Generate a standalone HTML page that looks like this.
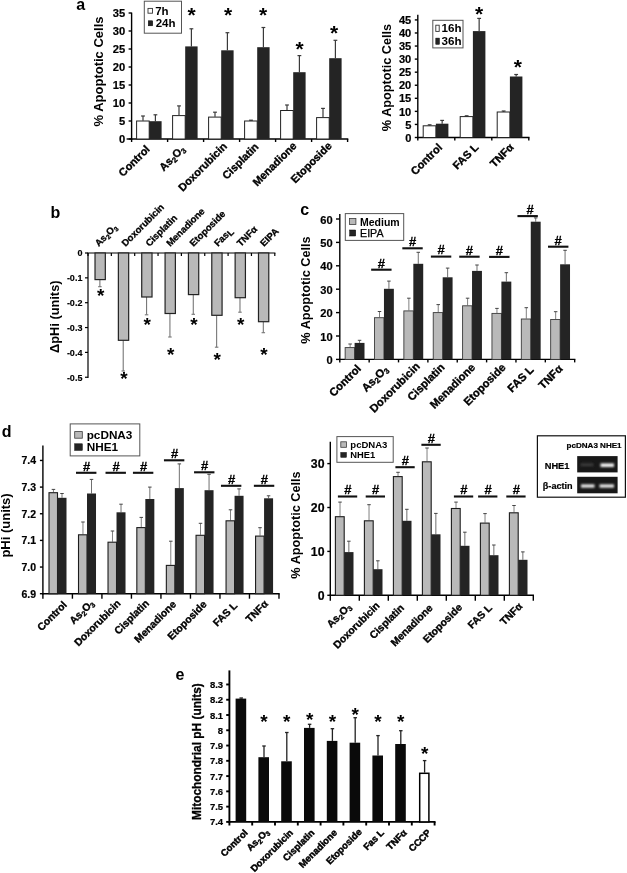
<!DOCTYPE html>
<html lang="en">
<head>
<meta charset="utf-8">
<title>Figure</title>
<style>
html,body{margin:0;padding:0;background:#fff;}
body{width:627px;height:873px;overflow:hidden;}
svg{display:block;font-family:"Liberation Sans",sans-serif;}
</style>
</head>
<body>
<svg width="627" height="873" viewBox="0 0 627 873">
<rect x="0" y="0" width="627" height="873" fill="#ffffff"/>
<text x="76.2" y="10.4" font-size="16" font-weight="bold" text-anchor="start" fill="#000" >a</text>
<line x1="131.6" y1="12.6" x2="131.6" y2="139.7" stroke="#000" stroke-width="1.4" />
<line x1="128.6" y1="139" x2="131.6" y2="139" stroke="#000" stroke-width="1.4" />
<text x="125.2" y="143.2" font-size="11.2" font-weight="bold" text-anchor="end" fill="#000" stroke="#000" stroke-width="0.2">0</text>
<line x1="128.6" y1="121" x2="131.6" y2="121" stroke="#000" stroke-width="1.4" />
<text x="125.2" y="125.2" font-size="11.2" font-weight="bold" text-anchor="end" fill="#000" stroke="#000" stroke-width="0.2">5</text>
<line x1="128.6" y1="103" x2="131.6" y2="103" stroke="#000" stroke-width="1.4" />
<text x="125.2" y="107.2" font-size="11.2" font-weight="bold" text-anchor="end" fill="#000" stroke="#000" stroke-width="0.2">10</text>
<line x1="128.6" y1="85" x2="131.6" y2="85" stroke="#000" stroke-width="1.4" />
<text x="125.2" y="89.2" font-size="11.2" font-weight="bold" text-anchor="end" fill="#000" stroke="#000" stroke-width="0.2">15</text>
<line x1="128.6" y1="67" x2="131.6" y2="67" stroke="#000" stroke-width="1.4" />
<text x="125.2" y="71.2" font-size="11.2" font-weight="bold" text-anchor="end" fill="#000" stroke="#000" stroke-width="0.2">20</text>
<line x1="128.6" y1="49" x2="131.6" y2="49" stroke="#000" stroke-width="1.4" />
<text x="125.2" y="53.2" font-size="11.2" font-weight="bold" text-anchor="end" fill="#000" stroke="#000" stroke-width="0.2">25</text>
<line x1="128.6" y1="31" x2="131.6" y2="31" stroke="#000" stroke-width="1.4" />
<text x="125.2" y="35.2" font-size="11.2" font-weight="bold" text-anchor="end" fill="#000" stroke="#000" stroke-width="0.2">30</text>
<line x1="128.6" y1="13" x2="131.6" y2="13" stroke="#000" stroke-width="1.4" />
<text x="125.2" y="17.2" font-size="11.2" font-weight="bold" text-anchor="end" fill="#000" stroke="#000" stroke-width="0.2">35</text>
<line x1="130.9" y1="139" x2="348.3" y2="139" stroke="#000" stroke-width="1.4" />
<line x1="131.6" y1="139" x2="131.6" y2="142" stroke="#000" stroke-width="1.4" />
<line x1="167.6" y1="139" x2="167.6" y2="142" stroke="#000" stroke-width="1.4" />
<line x1="203.6" y1="139" x2="203.6" y2="142" stroke="#000" stroke-width="1.4" />
<line x1="239.6" y1="139" x2="239.6" y2="142" stroke="#000" stroke-width="1.4" />
<line x1="275.6" y1="139" x2="275.6" y2="142" stroke="#000" stroke-width="1.4" />
<line x1="311.6" y1="139" x2="311.6" y2="142" stroke="#000" stroke-width="1.4" />
<line x1="347.6" y1="139" x2="347.6" y2="142" stroke="#000" stroke-width="1.4" />
<line x1="126.6" y1="139" x2="131.6" y2="139" stroke="#000" stroke-width="1.4" />
<text x="102.5" y="71.5" font-size="13" font-weight="bold" text-anchor="middle" fill="#000" transform="rotate(-90 102.5 71.5)" >% Apoptotic Cells</text>
<rect x="144.3" y="1.2" width="37.2" height="32" fill="#fff" stroke="#555" stroke-width="1"/>
<rect x="148" y="8.4" width="4.5" height="4.8" fill="#fff" stroke="#333" stroke-width="0.9"/>
<rect x="148.3" y="20.8" width="4.4" height="5" fill="#242424" stroke="#000" stroke-width="0.5"/>
<text x="155.2" y="15.1" font-size="11.5" font-weight="bold" text-anchor="start" fill="#000" >7h</text>
<text x="155.7" y="27.2" font-size="11.5" font-weight="bold" text-anchor="start" fill="#000" >24h</text>
<line x1="143" y1="120.7" x2="143" y2="116" stroke="#3a3a3a" stroke-width="1.2" />
<line x1="141.1" y1="116" x2="144.9" y2="116" stroke="#3a3a3a" stroke-width="1.2" />
<line x1="155.4" y1="121.2" x2="155.4" y2="114.8" stroke="#3a3a3a" stroke-width="1.2" />
<line x1="153.5" y1="114.8" x2="157.3" y2="114.8" stroke="#3a3a3a" stroke-width="1.2" />
<rect x="136.6" y="121" width="12.6" height="18" fill="#fff" stroke="#222" stroke-width="1"/>
<rect x="149.2" y="121.2" width="12.4" height="17.8" fill="#242424" stroke="none" stroke-width="1"/>
<line x1="179" y1="115.3" x2="179" y2="105.9" stroke="#3a3a3a" stroke-width="1.2" />
<line x1="177.1" y1="105.9" x2="180.9" y2="105.9" stroke="#3a3a3a" stroke-width="1.2" />
<line x1="191.4" y1="46.4" x2="191.4" y2="28.8" stroke="#3a3a3a" stroke-width="1.2" />
<line x1="189.5" y1="28.8" x2="193.3" y2="28.8" stroke="#3a3a3a" stroke-width="1.2" />
<rect x="172.6" y="115.6" width="12.6" height="23.4" fill="#fff" stroke="#222" stroke-width="1"/>
<rect x="185.2" y="46.4" width="12.4" height="92.6" fill="#242424" stroke="none" stroke-width="1"/>
<line x1="215" y1="116.8" x2="215" y2="112.2" stroke="#3a3a3a" stroke-width="1.2" />
<line x1="213.1" y1="112.2" x2="216.9" y2="112.2" stroke="#3a3a3a" stroke-width="1.2" />
<line x1="227.4" y1="50.3" x2="227.4" y2="32.7" stroke="#3a3a3a" stroke-width="1.2" />
<line x1="225.5" y1="32.7" x2="229.3" y2="32.7" stroke="#3a3a3a" stroke-width="1.2" />
<rect x="208.6" y="117.1" width="12.6" height="21.9" fill="#fff" stroke="#222" stroke-width="1"/>
<rect x="221.2" y="50.3" width="12.4" height="88.7" fill="#242424" stroke="none" stroke-width="1"/>
<line x1="251" y1="120.7" x2="251" y2="120.2" stroke="#3a3a3a" stroke-width="1.2" />
<line x1="249.1" y1="120.2" x2="252.9" y2="120.2" stroke="#3a3a3a" stroke-width="1.2" />
<line x1="263.4" y1="47.2" x2="263.4" y2="27.5" stroke="#3a3a3a" stroke-width="1.2" />
<line x1="261.5" y1="27.5" x2="265.3" y2="27.5" stroke="#3a3a3a" stroke-width="1.2" />
<rect x="244.6" y="121" width="12.6" height="18" fill="#fff" stroke="#222" stroke-width="1"/>
<rect x="257.2" y="47.2" width="12.4" height="91.8" fill="#242424" stroke="none" stroke-width="1"/>
<line x1="287" y1="110.2" x2="287" y2="105" stroke="#3a3a3a" stroke-width="1.2" />
<line x1="285.1" y1="105" x2="288.9" y2="105" stroke="#3a3a3a" stroke-width="1.2" />
<line x1="299.4" y1="72.2" x2="299.4" y2="55.6" stroke="#3a3a3a" stroke-width="1.2" />
<line x1="297.5" y1="55.6" x2="301.3" y2="55.6" stroke="#3a3a3a" stroke-width="1.2" />
<rect x="280.6" y="110.5" width="12.6" height="28.5" fill="#fff" stroke="#222" stroke-width="1"/>
<rect x="293.2" y="72.2" width="12.4" height="66.8" fill="#242424" stroke="none" stroke-width="1"/>
<line x1="323" y1="117.3" x2="323" y2="108.4" stroke="#3a3a3a" stroke-width="1.2" />
<line x1="321.1" y1="108.4" x2="324.9" y2="108.4" stroke="#3a3a3a" stroke-width="1.2" />
<line x1="335.4" y1="58.2" x2="335.4" y2="40.3" stroke="#3a3a3a" stroke-width="1.2" />
<line x1="333.5" y1="40.3" x2="337.3" y2="40.3" stroke="#3a3a3a" stroke-width="1.2" />
<rect x="316.6" y="117.6" width="12.6" height="21.4" fill="#fff" stroke="#222" stroke-width="1"/>
<rect x="329.2" y="58.2" width="12.4" height="80.8" fill="#242424" stroke="none" stroke-width="1"/>
<text x="191.7" y="21.75" font-size="21" font-weight="bold" text-anchor="middle" fill="#000" >*</text>
<text x="228" y="21.75" font-size="21" font-weight="bold" text-anchor="middle" fill="#000" >*</text>
<text x="263" y="21.75" font-size="21" font-weight="bold" text-anchor="middle" fill="#000" >*</text>
<text x="299.6" y="56.25" font-size="21" font-weight="bold" text-anchor="middle" fill="#000" >*</text>
<text x="334" y="40.25" font-size="21" font-weight="bold" text-anchor="middle" fill="#000" >*</text>
<text x="150.5" y="149.8" font-size="10.9" font-weight="bold" text-anchor="end" fill="#000" transform="rotate(-45 150.5 149.8)" stroke="#000" stroke-width="0.35">Control</text>
<text x="185.6" y="149.8" font-size="10.9" font-weight="bold" text-anchor="end" fill="#000" transform="rotate(-45 185.6 149.8)" stroke="#000" stroke-width="0.35">As<tspan font-size="70%" dy="2">2</tspan><tspan dy="-2">O</tspan><tspan font-size="70%" dy="2">3</tspan></text>
<text x="227.7" y="147" font-size="10.9" font-weight="bold" text-anchor="end" fill="#000" transform="rotate(-45 227.7 147)" stroke="#000" stroke-width="0.35">Doxorubicin</text>
<text x="259.3" y="147.5" font-size="10.9" font-weight="bold" text-anchor="end" fill="#000" transform="rotate(-45 259.3 147.5)" stroke="#000" stroke-width="0.35">Cisplatin</text>
<text x="297.4" y="146.5" font-size="10.9" font-weight="bold" text-anchor="end" fill="#000" transform="rotate(-45 297.4 146.5)" stroke="#000" stroke-width="0.35">Menadione</text>
<text x="332.5" y="146.5" font-size="10.9" font-weight="bold" text-anchor="end" fill="#000" transform="rotate(-45 332.5 146.5)" stroke="#000" stroke-width="0.35">Etoposide</text>
<line x1="417.8" y1="14.7" x2="417.8" y2="138.2" stroke="#000" stroke-width="1.4" />
<line x1="414.8" y1="137.5" x2="417.8" y2="137.5" stroke="#000" stroke-width="1.4" />
<text x="411.3" y="141.66" font-size="11.1" font-weight="bold" text-anchor="end" fill="#000" stroke="#000" stroke-width="0.2">0</text>
<line x1="414.8" y1="124.44" x2="417.8" y2="124.44" stroke="#000" stroke-width="1.4" />
<text x="411.3" y="128.6" font-size="11.1" font-weight="bold" text-anchor="end" fill="#000" stroke="#000" stroke-width="0.2">5</text>
<line x1="414.8" y1="111.37" x2="417.8" y2="111.37" stroke="#000" stroke-width="1.4" />
<text x="411.3" y="115.53" font-size="11.1" font-weight="bold" text-anchor="end" fill="#000" stroke="#000" stroke-width="0.2">10</text>
<line x1="414.8" y1="98.31" x2="417.8" y2="98.31" stroke="#000" stroke-width="1.4" />
<text x="411.3" y="102.47" font-size="11.1" font-weight="bold" text-anchor="end" fill="#000" stroke="#000" stroke-width="0.2">15</text>
<line x1="414.8" y1="85.24" x2="417.8" y2="85.24" stroke="#000" stroke-width="1.4" />
<text x="411.3" y="89.4" font-size="11.1" font-weight="bold" text-anchor="end" fill="#000" stroke="#000" stroke-width="0.2">20</text>
<line x1="414.8" y1="72.17" x2="417.8" y2="72.17" stroke="#000" stroke-width="1.4" />
<text x="411.3" y="76.34" font-size="11.1" font-weight="bold" text-anchor="end" fill="#000" stroke="#000" stroke-width="0.2">25</text>
<line x1="414.8" y1="59.11" x2="417.8" y2="59.11" stroke="#000" stroke-width="1.4" />
<text x="411.3" y="63.27" font-size="11.1" font-weight="bold" text-anchor="end" fill="#000" stroke="#000" stroke-width="0.2">30</text>
<line x1="414.8" y1="46.05" x2="417.8" y2="46.05" stroke="#000" stroke-width="1.4" />
<text x="411.3" y="50.21" font-size="11.1" font-weight="bold" text-anchor="end" fill="#000" stroke="#000" stroke-width="0.2">35</text>
<line x1="414.8" y1="32.98" x2="417.8" y2="32.98" stroke="#000" stroke-width="1.4" />
<text x="411.3" y="37.14" font-size="11.1" font-weight="bold" text-anchor="end" fill="#000" stroke="#000" stroke-width="0.2">40</text>
<line x1="414.8" y1="19.92" x2="417.8" y2="19.92" stroke="#000" stroke-width="1.4" />
<text x="411.3" y="24.08" font-size="11.1" font-weight="bold" text-anchor="end" fill="#000" stroke="#000" stroke-width="0.2">45</text>
<line x1="417.1" y1="137.5" x2="529.5" y2="137.5" stroke="#000" stroke-width="1.4" />
<line x1="417.8" y1="137.5" x2="417.8" y2="140.5" stroke="#000" stroke-width="1.4" />
<line x1="454.8" y1="137.5" x2="454.8" y2="140.5" stroke="#000" stroke-width="1.4" />
<line x1="491.8" y1="137.5" x2="491.8" y2="140.5" stroke="#000" stroke-width="1.4" />
<line x1="528.8" y1="137.5" x2="528.8" y2="140.5" stroke="#000" stroke-width="1.4" />
<text x="390.7" y="77.5" font-size="12.7" font-weight="bold" text-anchor="middle" fill="#000" transform="rotate(-90 390.7 77.5)" >% Apoptotic Cells</text>
<rect x="432.8" y="20.3" width="30.2" height="27.6" fill="#fff" stroke="#555" stroke-width="1"/>
<rect x="435.8" y="25.2" width="3.4" height="6.2" fill="#fff" stroke="#333" stroke-width="0.9"/>
<rect x="435.8" y="38.1" width="3.6" height="6.2" fill="#242424" stroke="#000" stroke-width="0.5"/>
<text x="441.5" y="31.9" font-size="11.6" font-weight="bold" text-anchor="start" fill="#000" >16h</text>
<text x="441.5" y="44.6" font-size="11.6" font-weight="bold" text-anchor="start" fill="#000" >36h</text>
<line x1="429.65" y1="125.5" x2="429.65" y2="124.8" stroke="#3a3a3a" stroke-width="1.2" />
<line x1="427.75" y1="124.8" x2="431.55" y2="124.8" stroke="#3a3a3a" stroke-width="1.2" />
<line x1="442.15" y1="123.7" x2="442.15" y2="120.4" stroke="#3a3a3a" stroke-width="1.2" />
<line x1="440.25" y1="120.4" x2="444.05" y2="120.4" stroke="#3a3a3a" stroke-width="1.2" />
<rect x="423.2" y="125.8" width="12.7" height="11.7" fill="#fff" stroke="#222" stroke-width="1"/>
<rect x="435.9" y="123.7" width="12.5" height="13.8" fill="#242424" stroke="none" stroke-width="1"/>
<line x1="466.65" y1="116.3" x2="466.65" y2="115.8" stroke="#3a3a3a" stroke-width="1.2" />
<line x1="464.75" y1="115.8" x2="468.55" y2="115.8" stroke="#3a3a3a" stroke-width="1.2" />
<line x1="479.15" y1="31.1" x2="479.15" y2="18.4" stroke="#3a3a3a" stroke-width="1.2" />
<line x1="477.25" y1="18.4" x2="481.05" y2="18.4" stroke="#3a3a3a" stroke-width="1.2" />
<rect x="460.2" y="116.6" width="12.7" height="20.9" fill="#fff" stroke="#222" stroke-width="1"/>
<rect x="472.9" y="31.1" width="12.5" height="106.4" fill="#242424" stroke="none" stroke-width="1"/>
<line x1="503.65" y1="111.7" x2="503.65" y2="111" stroke="#3a3a3a" stroke-width="1.2" />
<line x1="501.75" y1="111" x2="505.55" y2="111" stroke="#3a3a3a" stroke-width="1.2" />
<line x1="516.15" y1="76.5" x2="516.15" y2="74.5" stroke="#3a3a3a" stroke-width="1.2" />
<line x1="514.25" y1="74.5" x2="518.05" y2="74.5" stroke="#3a3a3a" stroke-width="1.2" />
<rect x="497.2" y="112" width="12.7" height="25.5" fill="#fff" stroke="#222" stroke-width="1"/>
<rect x="509.9" y="76.5" width="12.5" height="61" fill="#242424" stroke="none" stroke-width="1"/>
<text x="479" y="20.75" font-size="21" font-weight="bold" text-anchor="middle" fill="#000" >*</text>
<text x="517.8" y="73.85" font-size="21" font-weight="bold" text-anchor="middle" fill="#000" >*</text>
<text x="442.8" y="148" font-size="11" font-weight="bold" text-anchor="end" fill="#000" transform="rotate(-45 442.8 148)" stroke="#000" stroke-width="0.35">Control</text>
<text x="479.3" y="148" font-size="11" font-weight="bold" text-anchor="end" fill="#000" transform="rotate(-45 479.3 148)" stroke="#000" stroke-width="0.35">FAS L</text>
<text x="514.3" y="148" font-size="11" font-weight="bold" text-anchor="end" fill="#000" transform="rotate(-45 514.3 148)" stroke="#000" stroke-width="0.35">TNFα</text>
<text x="50.5" y="217.7" font-size="16" font-weight="bold" text-anchor="start" fill="#000" >b</text>
<line x1="88" y1="253" x2="88" y2="377.9" stroke="#000" stroke-width="1.2" />
<line x1="85" y1="253" x2="88" y2="253" stroke="#000" stroke-width="1.2" />
<text x="82.4" y="256.38" font-size="9.0" font-weight="bold" text-anchor="end" fill="#000" stroke="#000" stroke-width="0.15">0</text>
<line x1="85" y1="277.85" x2="88" y2="277.85" stroke="#000" stroke-width="1.2" />
<text x="82.4" y="281.23" font-size="9.0" font-weight="bold" text-anchor="end" fill="#000" stroke="#000" stroke-width="0.15">-0.1</text>
<line x1="85" y1="302.7" x2="88" y2="302.7" stroke="#000" stroke-width="1.2" />
<text x="82.4" y="306.07" font-size="9.0" font-weight="bold" text-anchor="end" fill="#000" stroke="#000" stroke-width="0.15">-0.2</text>
<line x1="85" y1="327.55" x2="88" y2="327.55" stroke="#000" stroke-width="1.2" />
<text x="82.4" y="330.93" font-size="9.0" font-weight="bold" text-anchor="end" fill="#000" stroke="#000" stroke-width="0.15">-0.3</text>
<line x1="85" y1="352.4" x2="88" y2="352.4" stroke="#000" stroke-width="1.2" />
<text x="82.4" y="355.77" font-size="9.0" font-weight="bold" text-anchor="end" fill="#000" stroke="#000" stroke-width="0.15">-0.4</text>
<line x1="85" y1="377.25" x2="88" y2="377.25" stroke="#000" stroke-width="1.2" />
<text x="82.4" y="380.62" font-size="9.0" font-weight="bold" text-anchor="end" fill="#000" stroke="#000" stroke-width="0.15">-0.5</text>
<line x1="87.4" y1="253" x2="275.4" y2="253" stroke="#000" stroke-width="1.2" />
<line x1="88" y1="253" x2="88" y2="256" stroke="#000" stroke-width="1.2" />
<line x1="111.35" y1="253" x2="111.35" y2="256" stroke="#000" stroke-width="1.2" />
<line x1="134.7" y1="253" x2="134.7" y2="256" stroke="#000" stroke-width="1.2" />
<line x1="158.05" y1="253" x2="158.05" y2="256" stroke="#000" stroke-width="1.2" />
<line x1="181.4" y1="253" x2="181.4" y2="256" stroke="#000" stroke-width="1.2" />
<line x1="204.75" y1="253" x2="204.75" y2="256" stroke="#000" stroke-width="1.2" />
<line x1="228.1" y1="253" x2="228.1" y2="256" stroke="#000" stroke-width="1.2" />
<line x1="251.45" y1="253" x2="251.45" y2="256" stroke="#000" stroke-width="1.2" />
<line x1="274.8" y1="253" x2="274.8" y2="256" stroke="#000" stroke-width="1.2" />
<text x="59.2" y="316.7" font-size="12.8" font-weight="bold" text-anchor="middle" fill="#000" transform="rotate(-90 59.2 316.7)" >ΔpHi (units)</text>
<line x1="99.88" y1="279.6" x2="99.88" y2="286.7" stroke="#777" stroke-width="1.1" />
<line x1="98.12" y1="286.7" x2="101.62" y2="286.7" stroke="#777" stroke-width="1.1" />
<rect x="95.02" y="253" width="10.3" height="26.6" fill="#b9b9b9" stroke="#222" stroke-width="1.2"/>
<text x="100.58" y="301.55" font-size="19" font-weight="bold" text-anchor="middle" fill="#000" >*</text>
<line x1="123.22" y1="340.3" x2="123.22" y2="371" stroke="#777" stroke-width="1.1" />
<line x1="121.47" y1="371" x2="124.97" y2="371" stroke="#777" stroke-width="1.1" />
<rect x="118.37" y="253" width="10.3" height="87.3" fill="#b9b9b9" stroke="#222" stroke-width="1.2"/>
<text x="123.92" y="384.55" font-size="19" font-weight="bold" text-anchor="middle" fill="#000" >*</text>
<line x1="146.57" y1="297" x2="146.57" y2="314.8" stroke="#777" stroke-width="1.1" />
<line x1="144.82" y1="314.8" x2="148.32" y2="314.8" stroke="#777" stroke-width="1.1" />
<rect x="141.72" y="253" width="10.3" height="44" fill="#b9b9b9" stroke="#222" stroke-width="1.2"/>
<text x="147.27" y="330.95" font-size="19" font-weight="bold" text-anchor="middle" fill="#000" >*</text>
<line x1="169.93" y1="313.5" x2="169.93" y2="337" stroke="#777" stroke-width="1.1" />
<line x1="168.18" y1="337" x2="171.68" y2="337" stroke="#777" stroke-width="1.1" />
<rect x="165.08" y="253" width="10.3" height="60.5" fill="#b9b9b9" stroke="#222" stroke-width="1.2"/>
<text x="170.62" y="360.85" font-size="19" font-weight="bold" text-anchor="middle" fill="#000" >*</text>
<line x1="193.28" y1="294.6" x2="193.28" y2="314.3" stroke="#777" stroke-width="1.1" />
<line x1="191.53" y1="314.3" x2="195.03" y2="314.3" stroke="#777" stroke-width="1.1" />
<rect x="188.43" y="253" width="10.3" height="41.6" fill="#b9b9b9" stroke="#222" stroke-width="1.2"/>
<text x="193.97" y="330.95" font-size="19" font-weight="bold" text-anchor="middle" fill="#000" >*</text>
<line x1="216.62" y1="315.3" x2="216.62" y2="347.2" stroke="#777" stroke-width="1.1" />
<line x1="214.88" y1="347.2" x2="218.38" y2="347.2" stroke="#777" stroke-width="1.1" />
<rect x="211.78" y="253" width="10.3" height="62.3" fill="#b9b9b9" stroke="#222" stroke-width="1.2"/>
<text x="217.32" y="365.95" font-size="19" font-weight="bold" text-anchor="middle" fill="#000" >*</text>
<line x1="239.98" y1="297.7" x2="239.98" y2="312.2" stroke="#777" stroke-width="1.1" />
<line x1="238.23" y1="312.2" x2="241.73" y2="312.2" stroke="#777" stroke-width="1.1" />
<rect x="235.13" y="253" width="10.3" height="44.7" fill="#b9b9b9" stroke="#222" stroke-width="1.2"/>
<text x="240.68" y="330.95" font-size="19" font-weight="bold" text-anchor="middle" fill="#000" >*</text>
<line x1="263.32" y1="321.7" x2="263.32" y2="332.7" stroke="#777" stroke-width="1.1" />
<line x1="261.57" y1="332.7" x2="265.07" y2="332.7" stroke="#777" stroke-width="1.1" />
<rect x="258.48" y="253" width="10.3" height="68.7" fill="#b9b9b9" stroke="#222" stroke-width="1.2"/>
<text x="264.02" y="360.85" font-size="19" font-weight="bold" text-anchor="middle" fill="#000" >*</text>
<text x="98.67" y="247" font-size="9.5" font-weight="bold" text-anchor="start" fill="#000" transform="rotate(-45 98.67 247)" stroke="#000" stroke-width="0.3">As<tspan font-size="70%" dy="2">2</tspan><tspan dy="-2">O</tspan><tspan font-size="70%" dy="2">3</tspan></text>
<text x="125.52" y="247" font-size="9.5" font-weight="bold" text-anchor="start" fill="#000" transform="rotate(-45 125.52 247)" stroke="#000" stroke-width="0.3">Doxorubicin</text>
<text x="149.38" y="247" font-size="9.5" font-weight="bold" text-anchor="start" fill="#000" transform="rotate(-45 149.38 247)" stroke="#000" stroke-width="0.3">Cisplatin</text>
<text x="170.23" y="247" font-size="9.5" font-weight="bold" text-anchor="start" fill="#000" transform="rotate(-45 170.23 247)" stroke="#000" stroke-width="0.3">Menadione</text>
<text x="193.58" y="247" font-size="9.5" font-weight="bold" text-anchor="start" fill="#000" transform="rotate(-45 193.58 247)" stroke="#000" stroke-width="0.3">Etoposide</text>
<text x="217.93" y="247" font-size="9.5" font-weight="bold" text-anchor="start" fill="#000" transform="rotate(-45 217.93 247)" stroke="#000" stroke-width="0.3">Fas<tspan font-size="95%" dy="1.8">L</tspan></text>
<text x="240.78" y="247" font-size="9.5" font-weight="bold" text-anchor="start" fill="#000" transform="rotate(-45 240.78 247)" stroke="#000" stroke-width="0.3">TNFα</text>
<text x="264.12" y="247" font-size="9.5" font-weight="bold" text-anchor="start" fill="#000" transform="rotate(-45 264.12 247)" stroke="#000" stroke-width="0.3">EIPA</text>
<text x="300.3" y="214.5" font-size="16" font-weight="bold" text-anchor="start" fill="#000" >c</text>
<line x1="339.8" y1="214" x2="339.8" y2="360.1" stroke="#000" stroke-width="1.4" />
<line x1="336" y1="359.4" x2="339.8" y2="359.4" stroke="#000" stroke-width="1.4" />
<text x="332.6" y="364.06" font-size="11.1" font-weight="bold" text-anchor="end" fill="#000" stroke="#000" stroke-width="0.2">0</text>
<line x1="336" y1="336" x2="339.8" y2="336" stroke="#000" stroke-width="1.4" />
<text x="332.6" y="340.66" font-size="11.1" font-weight="bold" text-anchor="end" fill="#000" stroke="#000" stroke-width="0.2">10</text>
<line x1="336" y1="312.6" x2="339.8" y2="312.6" stroke="#000" stroke-width="1.4" />
<text x="332.6" y="317.26" font-size="11.1" font-weight="bold" text-anchor="end" fill="#000" stroke="#000" stroke-width="0.2">20</text>
<line x1="336" y1="289.2" x2="339.8" y2="289.2" stroke="#000" stroke-width="1.4" />
<text x="332.6" y="293.86" font-size="11.1" font-weight="bold" text-anchor="end" fill="#000" stroke="#000" stroke-width="0.2">30</text>
<line x1="336" y1="265.8" x2="339.8" y2="265.8" stroke="#000" stroke-width="1.4" />
<text x="332.6" y="270.46" font-size="11.1" font-weight="bold" text-anchor="end" fill="#000" stroke="#000" stroke-width="0.2">40</text>
<line x1="336" y1="242.4" x2="339.8" y2="242.4" stroke="#000" stroke-width="1.4" />
<text x="332.6" y="247.06" font-size="11.1" font-weight="bold" text-anchor="end" fill="#000" stroke="#000" stroke-width="0.2">50</text>
<line x1="336" y1="219" x2="339.8" y2="219" stroke="#000" stroke-width="1.4" />
<text x="332.6" y="223.66" font-size="11.1" font-weight="bold" text-anchor="end" fill="#000" stroke="#000" stroke-width="0.2">60</text>
<line x1="339.1" y1="359.4" x2="575.38" y2="359.4" stroke="#000" stroke-width="1.4" />
<line x1="339.8" y1="359.4" x2="339.8" y2="362.4" stroke="#000" stroke-width="1.4" />
<line x1="369.16" y1="359.4" x2="369.16" y2="362.4" stroke="#000" stroke-width="1.4" />
<line x1="398.52" y1="359.4" x2="398.52" y2="362.4" stroke="#000" stroke-width="1.4" />
<line x1="427.88" y1="359.4" x2="427.88" y2="362.4" stroke="#000" stroke-width="1.4" />
<line x1="457.24" y1="359.4" x2="457.24" y2="362.4" stroke="#000" stroke-width="1.4" />
<line x1="486.6" y1="359.4" x2="486.6" y2="362.4" stroke="#000" stroke-width="1.4" />
<line x1="515.96" y1="359.4" x2="515.96" y2="362.4" stroke="#000" stroke-width="1.4" />
<line x1="545.32" y1="359.4" x2="545.32" y2="362.4" stroke="#000" stroke-width="1.4" />
<line x1="574.68" y1="359.4" x2="574.68" y2="362.4" stroke="#000" stroke-width="1.4" />
<text x="309.8" y="290" font-size="12.7" font-weight="bold" text-anchor="middle" fill="#000" transform="rotate(-90 309.8 290)" >% Apoptotic Cells</text>
<rect x="345.3" y="213.6" width="58.4" height="26.8" fill="#fff" stroke="#555" stroke-width="1"/>
<rect x="349.5" y="218.5" width="6.4" height="5.9" fill="#b9b9b9" stroke="#3a3a3a" stroke-width="0.8"/>
<rect x="349.7" y="230" width="6" height="6" fill="#242424" stroke="#000" stroke-width="0.5"/>
<text x="360" y="225.6" font-size="10.5" font-weight="bold" text-anchor="start" fill="#000" >Medium</text>
<text x="360" y="236.6" font-size="10.7" font-weight="normal" text-anchor="start" fill="#000" stroke="#000" stroke-width="0.25">EIPA</text>
<line x1="350.14" y1="347.2" x2="350.14" y2="344" stroke="#808080" stroke-width="1.0" />
<line x1="348.39" y1="344" x2="351.89" y2="344" stroke="#444" stroke-width="1.0" />
<line x1="359.55" y1="342.9" x2="359.55" y2="340.3" stroke="#707070" stroke-width="1.0" />
<line x1="357.8" y1="340.3" x2="361.3" y2="340.3" stroke="#444" stroke-width="1.0" />
<rect x="345.15" y="347.6" width="9.45" height="11.8" fill="#b9b9b9" stroke="#3a3a3a" stroke-width="0.9"/>
<rect x="354.6" y="342.9" width="9.9" height="16.5" fill="#242424" stroke="none" stroke-width="1"/>
<line x1="379.5" y1="317.3" x2="379.5" y2="311.5" stroke="#808080" stroke-width="1.0" />
<line x1="377.75" y1="311.5" x2="381.25" y2="311.5" stroke="#444" stroke-width="1.0" />
<line x1="388.91" y1="288.8" x2="388.91" y2="281.1" stroke="#707070" stroke-width="1.0" />
<line x1="387.16" y1="281.1" x2="390.66" y2="281.1" stroke="#444" stroke-width="1.0" />
<rect x="374.51" y="317.7" width="9.45" height="41.7" fill="#b9b9b9" stroke="#3a3a3a" stroke-width="0.9"/>
<rect x="383.96" y="288.8" width="9.9" height="70.6" fill="#242424" stroke="none" stroke-width="1"/>
<line x1="408.86" y1="310.5" x2="408.86" y2="298.2" stroke="#808080" stroke-width="1.0" />
<line x1="407.11" y1="298.2" x2="410.61" y2="298.2" stroke="#444" stroke-width="1.0" />
<line x1="418.27" y1="263.8" x2="418.27" y2="252.3" stroke="#707070" stroke-width="1.0" />
<line x1="416.52" y1="252.3" x2="420.02" y2="252.3" stroke="#444" stroke-width="1.0" />
<rect x="403.87" y="310.9" width="9.45" height="48.5" fill="#b9b9b9" stroke="#3a3a3a" stroke-width="0.9"/>
<rect x="413.32" y="263.8" width="9.9" height="95.6" fill="#242424" stroke="none" stroke-width="1"/>
<line x1="438.22" y1="312.2" x2="438.22" y2="304.6" stroke="#808080" stroke-width="1.0" />
<line x1="436.47" y1="304.6" x2="439.97" y2="304.6" stroke="#444" stroke-width="1.0" />
<line x1="447.63" y1="277.3" x2="447.63" y2="268.1" stroke="#707070" stroke-width="1.0" />
<line x1="445.88" y1="268.1" x2="449.38" y2="268.1" stroke="#444" stroke-width="1.0" />
<rect x="433.23" y="312.6" width="9.45" height="46.8" fill="#b9b9b9" stroke="#3a3a3a" stroke-width="0.9"/>
<rect x="442.68" y="277.3" width="9.9" height="82.1" fill="#242424" stroke="none" stroke-width="1"/>
<line x1="467.58" y1="305.4" x2="467.58" y2="298.2" stroke="#808080" stroke-width="1.0" />
<line x1="465.83" y1="298.2" x2="469.33" y2="298.2" stroke="#444" stroke-width="1.0" />
<line x1="476.99" y1="270.9" x2="476.99" y2="265" stroke="#707070" stroke-width="1.0" />
<line x1="475.24" y1="265" x2="478.74" y2="265" stroke="#444" stroke-width="1.0" />
<rect x="462.59" y="305.8" width="9.45" height="53.6" fill="#b9b9b9" stroke="#3a3a3a" stroke-width="0.9"/>
<rect x="472.04" y="270.9" width="9.9" height="88.5" fill="#242424" stroke="none" stroke-width="1"/>
<line x1="496.94" y1="313" x2="496.94" y2="308.4" stroke="#808080" stroke-width="1.0" />
<line x1="495.19" y1="308.4" x2="498.69" y2="308.4" stroke="#444" stroke-width="1.0" />
<line x1="506.35" y1="281.6" x2="506.35" y2="272.7" stroke="#707070" stroke-width="1.0" />
<line x1="504.6" y1="272.7" x2="508.1" y2="272.7" stroke="#444" stroke-width="1.0" />
<rect x="491.95" y="313.4" width="9.45" height="46" fill="#b9b9b9" stroke="#3a3a3a" stroke-width="0.9"/>
<rect x="501.4" y="281.6" width="9.9" height="77.8" fill="#242424" stroke="none" stroke-width="1"/>
<line x1="526.31" y1="318.6" x2="526.31" y2="307.7" stroke="#808080" stroke-width="1.0" />
<line x1="524.56" y1="307.7" x2="528.06" y2="307.7" stroke="#444" stroke-width="1.0" />
<line x1="535.71" y1="221.7" x2="535.71" y2="217.9" stroke="#707070" stroke-width="1.0" />
<line x1="533.96" y1="217.9" x2="537.46" y2="217.9" stroke="#444" stroke-width="1.0" />
<rect x="521.31" y="319" width="9.45" height="40.4" fill="#b9b9b9" stroke="#3a3a3a" stroke-width="0.9"/>
<rect x="530.76" y="221.7" width="9.9" height="137.7" fill="#242424" stroke="none" stroke-width="1"/>
<line x1="555.66" y1="319.1" x2="555.66" y2="311.7" stroke="#808080" stroke-width="1.0" />
<line x1="553.91" y1="311.7" x2="557.41" y2="311.7" stroke="#444" stroke-width="1.0" />
<line x1="565.07" y1="264.3" x2="565.07" y2="250.3" stroke="#707070" stroke-width="1.0" />
<line x1="563.32" y1="250.3" x2="566.82" y2="250.3" stroke="#444" stroke-width="1.0" />
<rect x="550.67" y="319.5" width="9.45" height="39.9" fill="#b9b9b9" stroke="#3a3a3a" stroke-width="0.9"/>
<rect x="560.12" y="264.3" width="9.9" height="95.1" fill="#242424" stroke="none" stroke-width="1"/>
<line x1="371.16" y1="269.7" x2="391.56" y2="269.7" stroke="#111" stroke-width="2.1" />
<text x="381.36" y="267.5" font-size="13" font-weight="bold" text-anchor="middle" fill="#000" stroke="#000" stroke-width="0.3">#</text>
<line x1="402.32" y1="248.3" x2="422.72" y2="248.3" stroke="#111" stroke-width="2.1" />
<text x="412.52" y="246.1" font-size="13" font-weight="bold" text-anchor="middle" fill="#000" stroke="#000" stroke-width="0.3">#</text>
<line x1="430.88" y1="256.6" x2="451.28" y2="256.6" stroke="#111" stroke-width="2.1" />
<text x="441.08" y="254.4" font-size="13" font-weight="bold" text-anchor="middle" fill="#000" stroke="#000" stroke-width="0.3">#</text>
<line x1="459.24" y1="256.7" x2="479.64" y2="256.7" stroke="#111" stroke-width="2.1" />
<text x="469.44" y="254.5" font-size="13" font-weight="bold" text-anchor="middle" fill="#000" stroke="#000" stroke-width="0.3">#</text>
<line x1="489.1" y1="256.9" x2="509.5" y2="256.9" stroke="#111" stroke-width="2.1" />
<text x="499.3" y="254.7" font-size="13" font-weight="bold" text-anchor="middle" fill="#000" stroke="#000" stroke-width="0.3">#</text>
<line x1="517.46" y1="216.1" x2="537.86" y2="216.1" stroke="#111" stroke-width="2.1" />
<text x="530.16" y="213.9" font-size="13" font-weight="bold" text-anchor="middle" fill="#000" stroke="#000" stroke-width="0.3">#</text>
<line x1="548.02" y1="246.7" x2="568.42" y2="246.7" stroke="#111" stroke-width="2.1" />
<text x="558.22" y="244.5" font-size="13" font-weight="bold" text-anchor="middle" fill="#000" stroke="#000" stroke-width="0.3">#</text>
<text x="361.8" y="369.2" font-size="11.2" font-weight="bold" text-anchor="end" fill="#000" transform="rotate(-45 361.8 369.2)" stroke="#000" stroke-width="0.35">Control</text>
<text x="388.66" y="370" font-size="11.2" font-weight="bold" text-anchor="end" fill="#000" transform="rotate(-45 388.66 370)" stroke="#000" stroke-width="0.35">As<tspan font-size="70%" dy="2">2</tspan><tspan dy="-2">O</tspan><tspan font-size="70%" dy="2">3</tspan></text>
<text x="420.52" y="367" font-size="11.2" font-weight="bold" text-anchor="end" fill="#000" transform="rotate(-45 420.52 367)" stroke="#000" stroke-width="0.35">Doxorubicin</text>
<text x="445.38" y="368" font-size="11.2" font-weight="bold" text-anchor="end" fill="#000" transform="rotate(-45 445.38 368)" stroke="#000" stroke-width="0.35">Cisplatin</text>
<text x="475.94" y="368" font-size="11.2" font-weight="bold" text-anchor="end" fill="#000" transform="rotate(-45 475.94 368)" stroke="#000" stroke-width="0.35">Menadione</text>
<text x="506.4" y="368" font-size="11.2" font-weight="bold" text-anchor="end" fill="#000" transform="rotate(-45 506.4 368)" stroke="#000" stroke-width="0.35">Etoposide</text>
<text x="534.46" y="370.5" font-size="11.2" font-weight="bold" text-anchor="end" fill="#000" transform="rotate(-45 534.46 370.5)" stroke="#000" stroke-width="0.35">FAS L</text>
<text x="563.32" y="369.5" font-size="11.2" font-weight="bold" text-anchor="end" fill="#000" transform="rotate(-45 563.32 369.5)" stroke="#000" stroke-width="0.35">TNFα</text>
<text x="1.8" y="437.3" font-size="16" font-weight="bold" text-anchor="start" fill="#000" >d</text>
<line x1="42.9" y1="445.5" x2="42.9" y2="594.4" stroke="#000" stroke-width="1.4" />
<line x1="39.9" y1="593.7" x2="42.9" y2="593.7" stroke="#000" stroke-width="1.4" />
<text x="36.1" y="597.64" font-size="10.5" font-weight="bold" text-anchor="end" fill="#000" stroke="#000" stroke-width="0.2">6.9</text>
<line x1="39.9" y1="567.05" x2="42.9" y2="567.05" stroke="#000" stroke-width="1.4" />
<text x="36.1" y="570.99" font-size="10.5" font-weight="bold" text-anchor="end" fill="#000" stroke="#000" stroke-width="0.2">7.0</text>
<line x1="39.9" y1="540.4" x2="42.9" y2="540.4" stroke="#000" stroke-width="1.4" />
<text x="36.1" y="544.34" font-size="10.5" font-weight="bold" text-anchor="end" fill="#000" stroke="#000" stroke-width="0.2">7.1</text>
<line x1="39.9" y1="513.75" x2="42.9" y2="513.75" stroke="#000" stroke-width="1.4" />
<text x="36.1" y="517.69" font-size="10.5" font-weight="bold" text-anchor="end" fill="#000" stroke="#000" stroke-width="0.2">7.2</text>
<line x1="39.9" y1="487.1" x2="42.9" y2="487.1" stroke="#000" stroke-width="1.4" />
<text x="36.1" y="491.04" font-size="10.5" font-weight="bold" text-anchor="end" fill="#000" stroke="#000" stroke-width="0.2">7.3</text>
<line x1="39.9" y1="460.45" x2="42.9" y2="460.45" stroke="#000" stroke-width="1.4" />
<text x="36.1" y="464.39" font-size="10.5" font-weight="bold" text-anchor="end" fill="#000" stroke="#000" stroke-width="0.2">7.4</text>
<line x1="42.2" y1="593.7" x2="279.68" y2="593.7" stroke="#000" stroke-width="1.4" />
<line x1="42.9" y1="593.7" x2="42.9" y2="598.7" stroke="#000" stroke-width="1.4" />
<line x1="72.41" y1="593.7" x2="72.41" y2="598.7" stroke="#000" stroke-width="1.4" />
<line x1="101.92" y1="593.7" x2="101.92" y2="598.7" stroke="#000" stroke-width="1.4" />
<line x1="131.43" y1="593.7" x2="131.43" y2="598.7" stroke="#000" stroke-width="1.4" />
<line x1="160.94" y1="593.7" x2="160.94" y2="598.7" stroke="#000" stroke-width="1.4" />
<line x1="190.45" y1="593.7" x2="190.45" y2="598.7" stroke="#000" stroke-width="1.4" />
<line x1="219.96" y1="593.7" x2="219.96" y2="598.7" stroke="#000" stroke-width="1.4" />
<line x1="249.47" y1="593.7" x2="249.47" y2="598.7" stroke="#000" stroke-width="1.4" />
<line x1="278.98" y1="593.7" x2="278.98" y2="598.7" stroke="#000" stroke-width="1.4" />
<text x="10.4" y="525.5" font-size="13" font-weight="bold" text-anchor="middle" fill="#000" transform="rotate(-90 10.4 525.5)" >pHi (units)</text>
<rect x="70.2" y="423.9" width="69.6" height="32" fill="#fff" stroke="#555" stroke-width="1"/>
<rect x="74.7" y="431.6" width="7.6" height="6.6" fill="#b9b9b9" stroke="#3a3a3a" stroke-width="0.8"/>
<rect x="74.7" y="443.8" width="7.6" height="6.6" fill="#242424" stroke="#000" stroke-width="0.5"/>
<text x="86.7" y="439.3" font-size="11.75" font-weight="bold" text-anchor="start" fill="#000" >pcDNA3</text>
<text x="86.7" y="451" font-size="11.75" font-weight="bold" text-anchor="start" fill="#000" >NHE1</text>
<line x1="53.45" y1="492.2" x2="53.45" y2="489.4" stroke="#808080" stroke-width="1.0" />
<line x1="51.7" y1="489.4" x2="55.2" y2="489.4" stroke="#444" stroke-width="1.0" />
<line x1="62" y1="497.8" x2="62" y2="493.5" stroke="#707070" stroke-width="1.0" />
<line x1="60.25" y1="493.5" x2="63.75" y2="493.5" stroke="#444" stroke-width="1.0" />
<rect x="49" y="492.7" width="8.5" height="101" fill="#b9b9b9" stroke="#1c1c1c" stroke-width="1.1"/>
<rect x="57.5" y="497.8" width="9" height="95.9" fill="#242424" stroke="none" stroke-width="1"/>
<line x1="82.96" y1="534.3" x2="82.96" y2="522" stroke="#808080" stroke-width="1.0" />
<line x1="81.21" y1="522" x2="84.71" y2="522" stroke="#444" stroke-width="1.0" />
<line x1="91.51" y1="493.5" x2="91.51" y2="479.4" stroke="#707070" stroke-width="1.0" />
<line x1="89.76" y1="479.4" x2="93.26" y2="479.4" stroke="#444" stroke-width="1.0" />
<rect x="78.51" y="534.8" width="8.5" height="58.9" fill="#b9b9b9" stroke="#1c1c1c" stroke-width="1.1"/>
<rect x="87.01" y="493.5" width="9" height="100.2" fill="#242424" stroke="none" stroke-width="1"/>
<line x1="112.47" y1="541.7" x2="112.47" y2="531" stroke="#808080" stroke-width="1.0" />
<line x1="110.72" y1="531" x2="114.22" y2="531" stroke="#444" stroke-width="1.0" />
<line x1="121.02" y1="512.3" x2="121.02" y2="504.2" stroke="#707070" stroke-width="1.0" />
<line x1="119.27" y1="504.2" x2="122.77" y2="504.2" stroke="#444" stroke-width="1.0" />
<rect x="108.02" y="542.2" width="8.5" height="51.5" fill="#b9b9b9" stroke="#1c1c1c" stroke-width="1.1"/>
<rect x="116.52" y="512.3" width="9" height="81.4" fill="#242424" stroke="none" stroke-width="1"/>
<line x1="141.28" y1="527.1" x2="141.28" y2="517.4" stroke="#808080" stroke-width="1.0" />
<line x1="139.53" y1="517.4" x2="143.03" y2="517.4" stroke="#444" stroke-width="1.0" />
<line x1="149.83" y1="499" x2="149.83" y2="487.1" stroke="#707070" stroke-width="1.0" />
<line x1="148.08" y1="487.1" x2="151.58" y2="487.1" stroke="#444" stroke-width="1.0" />
<rect x="136.83" y="527.6" width="8.5" height="66.1" fill="#b9b9b9" stroke="#1c1c1c" stroke-width="1.1"/>
<rect x="145.33" y="499" width="9" height="94.7" fill="#242424" stroke="none" stroke-width="1"/>
<line x1="170.79" y1="564.9" x2="170.79" y2="541.2" stroke="#808080" stroke-width="1.0" />
<line x1="169.04" y1="541.2" x2="172.54" y2="541.2" stroke="#444" stroke-width="1.0" />
<line x1="179.34" y1="488.1" x2="179.34" y2="463.9" stroke="#707070" stroke-width="1.0" />
<line x1="177.59" y1="463.9" x2="181.09" y2="463.9" stroke="#444" stroke-width="1.0" />
<rect x="166.34" y="565.4" width="8.5" height="28.3" fill="#b9b9b9" stroke="#1c1c1c" stroke-width="1.1"/>
<rect x="174.84" y="488.1" width="9" height="105.6" fill="#242424" stroke="none" stroke-width="1"/>
<line x1="200.5" y1="534.8" x2="200.5" y2="523.3" stroke="#808080" stroke-width="1.0" />
<line x1="198.75" y1="523.3" x2="202.25" y2="523.3" stroke="#444" stroke-width="1.0" />
<line x1="209.05" y1="490.2" x2="209.05" y2="474.3" stroke="#707070" stroke-width="1.0" />
<line x1="207.3" y1="474.3" x2="210.8" y2="474.3" stroke="#444" stroke-width="1.0" />
<rect x="196.05" y="535.3" width="8.5" height="58.4" fill="#b9b9b9" stroke="#1c1c1c" stroke-width="1.1"/>
<rect x="204.55" y="490.2" width="9" height="103.5" fill="#242424" stroke="none" stroke-width="1"/>
<line x1="230.51" y1="520.3" x2="230.51" y2="509.8" stroke="#808080" stroke-width="1.0" />
<line x1="228.76" y1="509.8" x2="232.26" y2="509.8" stroke="#444" stroke-width="1.0" />
<line x1="239.06" y1="495.8" x2="239.06" y2="488.9" stroke="#707070" stroke-width="1.0" />
<line x1="237.31" y1="488.9" x2="240.81" y2="488.9" stroke="#444" stroke-width="1.0" />
<rect x="226.06" y="520.8" width="8.5" height="72.9" fill="#b9b9b9" stroke="#1c1c1c" stroke-width="1.1"/>
<rect x="234.56" y="495.8" width="9" height="97.9" fill="#242424" stroke="none" stroke-width="1"/>
<line x1="260.02" y1="535.6" x2="260.02" y2="527.7" stroke="#808080" stroke-width="1.0" />
<line x1="258.27" y1="527.7" x2="261.77" y2="527.7" stroke="#444" stroke-width="1.0" />
<line x1="268.57" y1="498.3" x2="268.57" y2="495.8" stroke="#707070" stroke-width="1.0" />
<line x1="266.82" y1="495.8" x2="270.32" y2="495.8" stroke="#444" stroke-width="1.0" />
<rect x="255.57" y="536.1" width="8.5" height="57.6" fill="#b9b9b9" stroke="#1c1c1c" stroke-width="1.1"/>
<rect x="264.07" y="498.3" width="9" height="95.4" fill="#242424" stroke="none" stroke-width="1"/>
<line x1="76.01" y1="472.8" x2="96.41" y2="472.8" stroke="#111" stroke-width="2.1" />
<text x="86.61" y="470.6" font-size="13" font-weight="bold" text-anchor="middle" fill="#000" stroke="#000" stroke-width="0.3">#</text>
<line x1="105.52" y1="472.8" x2="125.92" y2="472.8" stroke="#111" stroke-width="2.1" />
<text x="116.12" y="470.6" font-size="13" font-weight="bold" text-anchor="middle" fill="#000" stroke="#000" stroke-width="0.3">#</text>
<line x1="132.93" y1="472.8" x2="153.33" y2="472.8" stroke="#111" stroke-width="2.1" />
<text x="143.53" y="470.6" font-size="13" font-weight="bold" text-anchor="middle" fill="#000" stroke="#000" stroke-width="0.3">#</text>
<line x1="163.94" y1="460.3" x2="184.34" y2="460.3" stroke="#111" stroke-width="2.1" />
<text x="174.54" y="458.1" font-size="13" font-weight="bold" text-anchor="middle" fill="#000" stroke="#000" stroke-width="0.3">#</text>
<line x1="194.05" y1="472.3" x2="214.45" y2="472.3" stroke="#111" stroke-width="2.1" />
<text x="204.65" y="470.1" font-size="13" font-weight="bold" text-anchor="middle" fill="#000" stroke="#000" stroke-width="0.3">#</text>
<line x1="220.96" y1="485.8" x2="241.36" y2="485.8" stroke="#111" stroke-width="2.1" />
<text x="231.56" y="483.6" font-size="13" font-weight="bold" text-anchor="middle" fill="#000" stroke="#000" stroke-width="0.3">#</text>
<line x1="253.87" y1="485.8" x2="274.27" y2="485.8" stroke="#111" stroke-width="2.1" />
<text x="264.47" y="483.6" font-size="13" font-weight="bold" text-anchor="middle" fill="#000" stroke="#000" stroke-width="0.3">#</text>
<text x="67.6" y="605.5" font-size="10.4" font-weight="bold" text-anchor="end" fill="#000" transform="rotate(-45 67.6 605.5)" stroke="#000" stroke-width="0.35">Control</text>
<text x="94.55" y="604" font-size="10.4" font-weight="bold" text-anchor="end" fill="#000" transform="rotate(-45 94.55 604)" stroke="#000" stroke-width="0.35">As<tspan font-size="70%" dy="2">2</tspan><tspan dy="-2">O</tspan><tspan font-size="70%" dy="2">3</tspan></text>
<text x="121.3" y="604" font-size="10.4" font-weight="bold" text-anchor="end" fill="#000" transform="rotate(-45 121.3 604)" stroke="#000" stroke-width="0.35">Doxorubicin</text>
<text x="149.65" y="604" font-size="10.4" font-weight="bold" text-anchor="end" fill="#000" transform="rotate(-45 149.65 604)" stroke="#000" stroke-width="0.35">Cisplatin</text>
<text x="176.9" y="605" font-size="10.4" font-weight="bold" text-anchor="end" fill="#000" transform="rotate(-45 176.9 605)" stroke="#000" stroke-width="0.35">Menadione</text>
<text x="207.35" y="605" font-size="10.4" font-weight="bold" text-anchor="end" fill="#000" transform="rotate(-45 207.35 605)" stroke="#000" stroke-width="0.35">Etoposide</text>
<text x="238" y="606.3" font-size="10.4" font-weight="bold" text-anchor="end" fill="#000" transform="rotate(-45 238 606.3)" stroke="#000" stroke-width="0.35">FAS L</text>
<text x="268.75" y="604.5" font-size="10.4" font-weight="bold" text-anchor="end" fill="#000" transform="rotate(-45 268.75 604.5)" stroke="#000" stroke-width="0.35">TNFα</text>
<line x1="330.3" y1="441.7" x2="330.3" y2="596" stroke="#000" stroke-width="1.4" />
<line x1="327.3" y1="595.3" x2="330.3" y2="595.3" stroke="#000" stroke-width="1.4" />
<text x="324.5" y="599.91" font-size="12.3" font-weight="bold" text-anchor="end" fill="#000" stroke="#000" stroke-width="0.2">0</text>
<line x1="327.3" y1="551.4" x2="330.3" y2="551.4" stroke="#000" stroke-width="1.4" />
<text x="324.5" y="556.01" font-size="12.3" font-weight="bold" text-anchor="end" fill="#000" stroke="#000" stroke-width="0.2">10</text>
<line x1="327.3" y1="507.5" x2="330.3" y2="507.5" stroke="#000" stroke-width="1.4" />
<text x="324.5" y="512.11" font-size="12.3" font-weight="bold" text-anchor="end" fill="#000" stroke="#000" stroke-width="0.2">20</text>
<line x1="327.3" y1="463.6" x2="330.3" y2="463.6" stroke="#000" stroke-width="1.4" />
<text x="324.5" y="468.21" font-size="12.3" font-weight="bold" text-anchor="end" fill="#000" stroke="#000" stroke-width="0.2">30</text>
<line x1="329.6" y1="595.3" x2="534" y2="595.3" stroke="#000" stroke-width="1.4" />
<line x1="330.3" y1="595.3" x2="330.3" y2="600.7" stroke="#000" stroke-width="1.4" />
<line x1="359.3" y1="595.3" x2="359.3" y2="600.7" stroke="#000" stroke-width="1.4" />
<line x1="388.3" y1="595.3" x2="388.3" y2="600.7" stroke="#000" stroke-width="1.4" />
<line x1="417.3" y1="595.3" x2="417.3" y2="600.7" stroke="#000" stroke-width="1.4" />
<line x1="446.3" y1="595.3" x2="446.3" y2="600.7" stroke="#000" stroke-width="1.4" />
<line x1="475.3" y1="595.3" x2="475.3" y2="600.7" stroke="#000" stroke-width="1.4" />
<line x1="504.3" y1="595.3" x2="504.3" y2="600.7" stroke="#000" stroke-width="1.4" />
<line x1="533.3" y1="595.3" x2="533.3" y2="600.7" stroke="#000" stroke-width="1.4" />
<text x="300.3" y="525" font-size="12.7" font-weight="bold" text-anchor="middle" fill="#000" transform="rotate(-90 300.3 525)" >% Apoptotic Cells</text>
<rect x="336.9" y="436.6" width="56.3" height="25.7" fill="#fff" stroke="#555" stroke-width="1"/>
<rect x="340.8" y="441.8" width="5.6" height="5.5" fill="#b9b9b9" stroke="#3a3a3a" stroke-width="0.8"/>
<rect x="340.8" y="452.5" width="5.6" height="4.8" fill="#242424" stroke="#000" stroke-width="0.5"/>
<text x="350.3" y="448.1" font-size="9.55" font-weight="bold" text-anchor="start" fill="#000" >pcDNA3</text>
<text x="350.3" y="457.8" font-size="9.4" font-weight="bold" text-anchor="start" fill="#000" >NHE1</text>
<line x1="340.02" y1="516.2" x2="340.02" y2="502.1" stroke="#808080" stroke-width="1.0" />
<line x1="338.27" y1="502.1" x2="341.77" y2="502.1" stroke="#444" stroke-width="1.0" />
<line x1="348.85" y1="552.1" x2="348.85" y2="541.2" stroke="#707070" stroke-width="1.0" />
<line x1="347.1" y1="541.2" x2="350.6" y2="541.2" stroke="#444" stroke-width="1.0" />
<rect x="335.4" y="516.7" width="8.8" height="78.6" fill="#b9b9b9" stroke="#1c1c1c" stroke-width="1.1"/>
<rect x="344.2" y="552.1" width="9.3" height="43.2" fill="#242424" stroke="none" stroke-width="1"/>
<line x1="369.02" y1="520.3" x2="369.02" y2="504.7" stroke="#808080" stroke-width="1.0" />
<line x1="367.27" y1="504.7" x2="370.77" y2="504.7" stroke="#444" stroke-width="1.0" />
<line x1="377.85" y1="569.2" x2="377.85" y2="560.8" stroke="#707070" stroke-width="1.0" />
<line x1="376.1" y1="560.8" x2="379.6" y2="560.8" stroke="#444" stroke-width="1.0" />
<rect x="364.4" y="520.8" width="8.8" height="74.5" fill="#b9b9b9" stroke="#1c1c1c" stroke-width="1.1"/>
<rect x="373.2" y="569.2" width="9.3" height="26.1" fill="#242424" stroke="none" stroke-width="1"/>
<line x1="398.02" y1="476.1" x2="398.02" y2="472.3" stroke="#808080" stroke-width="1.0" />
<line x1="396.27" y1="472.3" x2="399.77" y2="472.3" stroke="#444" stroke-width="1.0" />
<line x1="406.85" y1="520.8" x2="406.85" y2="509.3" stroke="#707070" stroke-width="1.0" />
<line x1="405.1" y1="509.3" x2="408.6" y2="509.3" stroke="#444" stroke-width="1.0" />
<rect x="393.4" y="476.6" width="8.8" height="118.7" fill="#b9b9b9" stroke="#1c1c1c" stroke-width="1.1"/>
<rect x="402.2" y="520.8" width="9.3" height="74.5" fill="#242424" stroke="none" stroke-width="1"/>
<line x1="427.02" y1="461.3" x2="427.02" y2="448" stroke="#808080" stroke-width="1.0" />
<line x1="425.27" y1="448" x2="428.77" y2="448" stroke="#444" stroke-width="1.0" />
<line x1="435.85" y1="534.3" x2="435.85" y2="513.4" stroke="#707070" stroke-width="1.0" />
<line x1="434.1" y1="513.4" x2="437.6" y2="513.4" stroke="#444" stroke-width="1.0" />
<rect x="422.4" y="461.8" width="8.8" height="133.5" fill="#b9b9b9" stroke="#1c1c1c" stroke-width="1.1"/>
<rect x="431.2" y="534.3" width="9.3" height="61" fill="#242424" stroke="none" stroke-width="1"/>
<line x1="456.02" y1="508" x2="456.02" y2="502.1" stroke="#808080" stroke-width="1.0" />
<line x1="454.27" y1="502.1" x2="457.77" y2="502.1" stroke="#444" stroke-width="1.0" />
<line x1="464.85" y1="545.8" x2="464.85" y2="532.2" stroke="#707070" stroke-width="1.0" />
<line x1="463.1" y1="532.2" x2="466.6" y2="532.2" stroke="#444" stroke-width="1.0" />
<rect x="451.4" y="508.5" width="8.8" height="86.8" fill="#b9b9b9" stroke="#1c1c1c" stroke-width="1.1"/>
<rect x="460.2" y="545.8" width="9.3" height="49.5" fill="#242424" stroke="none" stroke-width="1"/>
<line x1="485.02" y1="522.6" x2="485.02" y2="513.6" stroke="#808080" stroke-width="1.0" />
<line x1="483.27" y1="513.6" x2="486.77" y2="513.6" stroke="#444" stroke-width="1.0" />
<line x1="493.85" y1="555.2" x2="493.85" y2="545" stroke="#707070" stroke-width="1.0" />
<line x1="492.1" y1="545" x2="495.6" y2="545" stroke="#444" stroke-width="1.0" />
<rect x="480.4" y="523.1" width="8.8" height="72.2" fill="#b9b9b9" stroke="#1c1c1c" stroke-width="1.1"/>
<rect x="489.2" y="555.2" width="9.3" height="40.1" fill="#242424" stroke="none" stroke-width="1"/>
<line x1="514.01" y1="512.3" x2="514.01" y2="505.5" stroke="#808080" stroke-width="1.0" />
<line x1="512.26" y1="505.5" x2="515.76" y2="505.5" stroke="#444" stroke-width="1.0" />
<line x1="522.85" y1="559.8" x2="522.85" y2="551.9" stroke="#707070" stroke-width="1.0" />
<line x1="521.1" y1="551.9" x2="524.6" y2="551.9" stroke="#444" stroke-width="1.0" />
<rect x="509.4" y="512.8" width="8.8" height="82.5" fill="#b9b9b9" stroke="#1c1c1c" stroke-width="1.1"/>
<rect x="518.2" y="559.8" width="9.3" height="35.5" fill="#242424" stroke="none" stroke-width="1"/>
<line x1="337.9" y1="496.5" x2="357.2" y2="496.5" stroke="#111" stroke-width="2.1" />
<text x="347.9" y="494.3" font-size="13" font-weight="bold" text-anchor="middle" fill="#000" stroke="#000" stroke-width="0.3">#</text>
<line x1="365.7" y1="496.5" x2="385" y2="496.5" stroke="#111" stroke-width="2.1" />
<text x="375.7" y="494.3" font-size="13" font-weight="bold" text-anchor="middle" fill="#000" stroke="#000" stroke-width="0.3">#</text>
<line x1="395.4" y1="467.2" x2="414.7" y2="467.2" stroke="#111" stroke-width="2.1" />
<text x="405.4" y="465" font-size="13" font-weight="bold" text-anchor="middle" fill="#000" stroke="#000" stroke-width="0.3">#</text>
<line x1="421.4" y1="444.8" x2="440.7" y2="444.8" stroke="#111" stroke-width="2.1" />
<text x="431.4" y="442.6" font-size="13" font-weight="bold" text-anchor="middle" fill="#000" stroke="#000" stroke-width="0.3">#</text>
<line x1="453.9" y1="496.5" x2="473.2" y2="496.5" stroke="#111" stroke-width="2.1" />
<text x="463.9" y="494.3" font-size="13" font-weight="bold" text-anchor="middle" fill="#000" stroke="#000" stroke-width="0.3">#</text>
<line x1="478.1" y1="496.5" x2="497.4" y2="496.5" stroke="#111" stroke-width="2.1" />
<text x="488.1" y="494.3" font-size="13" font-weight="bold" text-anchor="middle" fill="#000" stroke="#000" stroke-width="0.3">#</text>
<line x1="506.3" y1="496.5" x2="525.6" y2="496.5" stroke="#111" stroke-width="2.1" />
<text x="516.3" y="494.3" font-size="13" font-weight="bold" text-anchor="middle" fill="#000" stroke="#000" stroke-width="0.3">#</text>
<text x="351.8" y="607.5" font-size="10.4" font-weight="bold" text-anchor="end" fill="#000" transform="rotate(-45 351.8 607.5)" stroke="#000" stroke-width="0.35">As<tspan font-size="70%" dy="2">2</tspan><tspan dy="-2">O</tspan><tspan font-size="70%" dy="2">3</tspan></text>
<text x="380.3" y="606.3" font-size="10.4" font-weight="bold" text-anchor="end" fill="#000" transform="rotate(-45 380.3 606.3)" stroke="#000" stroke-width="0.35">Doxorubicin</text>
<text x="404.8" y="608.5" font-size="10.4" font-weight="bold" text-anchor="end" fill="#000" transform="rotate(-45 404.8 608.5)" stroke="#000" stroke-width="0.35">Cisplatin</text>
<text x="433.3" y="608.6" font-size="10.4" font-weight="bold" text-anchor="end" fill="#000" transform="rotate(-45 433.3 608.6)" stroke="#000" stroke-width="0.35">Menadione</text>
<text x="462.8" y="608" font-size="10.4" font-weight="bold" text-anchor="end" fill="#000" transform="rotate(-45 462.8 608)" stroke="#000" stroke-width="0.35">Etoposide</text>
<text x="492.8" y="608.5" font-size="10.4" font-weight="bold" text-anchor="end" fill="#000" transform="rotate(-45 492.8 608.5)" stroke="#000" stroke-width="0.35">FAS L</text>
<text x="523" y="607" font-size="10.4" font-weight="bold" text-anchor="end" fill="#000" transform="rotate(-45 523 607)" stroke="#000" stroke-width="0.35">TNFα</text>
<rect x="537.4" y="435.8" width="88" height="61.4" fill="#fff" stroke="#111" stroke-width="1.2"/>
<text x="621.6" y="447.6" font-size="8.05" font-weight="bold" text-anchor="end" fill="#000" stroke="#000" stroke-width="0.2">pcDNA3 NHE1</text>
<text x="544.7" y="469.3" font-size="9.3" font-weight="bold" text-anchor="start" fill="#000" stroke="#000" stroke-width="0.2">NHE1</text>
<text x="542.8" y="488.8" font-size="9.1" font-weight="bold" text-anchor="start" fill="#000" stroke="#000" stroke-width="0.2">β-actin</text>
<defs><filter id="bl" x="-20%" y="-80%" width="140%" height="260%"><feGaussianBlur stdDeviation="1.1 0.8"/></filter></defs>
<rect x="577.2" y="456.1" width="40.4" height="16.3" fill="#181818" stroke="none" stroke-width="1"/>
<rect x="577.2" y="476.8" width="40.4" height="16.5" fill="#181818" stroke="none" stroke-width="1"/>
<g filter="url(#bl)">
<rect x="580.5" y="463.4" width="13" height="2.8" fill="#3c3c3c" stroke="none" stroke-width="1"/>
<rect x="600.5" y="463.4" width="13.5" height="3.6" fill="#f4f4f4" stroke="none" stroke-width="1"/>
<rect x="581" y="484.4" width="13.5" height="3.2" fill="#f0f0f0" stroke="none" stroke-width="1"/>
<rect x="599.5" y="484.4" width="14.5" height="3.2" fill="#f0f0f0" stroke="none" stroke-width="1"/>
</g>
<text x="175.6" y="680" font-size="16" font-weight="bold" text-anchor="start" fill="#000" >e</text>
<line x1="229.4" y1="670.4" x2="229.4" y2="822.85" stroke="#000" stroke-width="1.9" />
<line x1="226.2" y1="821.9" x2="229.4" y2="821.9" stroke="#000" stroke-width="1.9" />
<text x="223.1" y="825.46" font-size="9.5" font-weight="bold" text-anchor="end" fill="#000" stroke="#000" stroke-width="0.2">7.4</text>
<line x1="226.2" y1="806.63" x2="229.4" y2="806.63" stroke="#000" stroke-width="1.9" />
<text x="223.1" y="810.19" font-size="9.5" font-weight="bold" text-anchor="end" fill="#000" stroke="#000" stroke-width="0.2">7.5</text>
<line x1="226.2" y1="791.36" x2="229.4" y2="791.36" stroke="#000" stroke-width="1.9" />
<text x="223.1" y="794.92" font-size="9.5" font-weight="bold" text-anchor="end" fill="#000" stroke="#000" stroke-width="0.2">7.6</text>
<line x1="226.2" y1="776.09" x2="229.4" y2="776.09" stroke="#000" stroke-width="1.9" />
<text x="223.1" y="779.65" font-size="9.5" font-weight="bold" text-anchor="end" fill="#000" stroke="#000" stroke-width="0.2">7.7</text>
<line x1="226.2" y1="760.82" x2="229.4" y2="760.82" stroke="#000" stroke-width="1.9" />
<text x="223.1" y="764.38" font-size="9.5" font-weight="bold" text-anchor="end" fill="#000" stroke="#000" stroke-width="0.2">7.8</text>
<line x1="226.2" y1="745.55" x2="229.4" y2="745.55" stroke="#000" stroke-width="1.9" />
<text x="223.1" y="749.11" font-size="9.5" font-weight="bold" text-anchor="end" fill="#000" stroke="#000" stroke-width="0.2">7.9</text>
<line x1="226.2" y1="730.28" x2="229.4" y2="730.28" stroke="#000" stroke-width="1.9" />
<text x="223.1" y="733.84" font-size="9.5" font-weight="bold" text-anchor="end" fill="#000" stroke="#000" stroke-width="0.2">8</text>
<line x1="226.2" y1="715.01" x2="229.4" y2="715.01" stroke="#000" stroke-width="1.9" />
<text x="223.1" y="718.57" font-size="9.5" font-weight="bold" text-anchor="end" fill="#000" stroke="#000" stroke-width="0.2">8.1</text>
<line x1="226.2" y1="699.74" x2="229.4" y2="699.74" stroke="#000" stroke-width="1.9" />
<text x="223.1" y="703.3" font-size="9.5" font-weight="bold" text-anchor="end" fill="#000" stroke="#000" stroke-width="0.2">8.2</text>
<line x1="226.2" y1="684.47" x2="229.4" y2="684.47" stroke="#000" stroke-width="1.9" />
<text x="223.1" y="688.03" font-size="9.5" font-weight="bold" text-anchor="end" fill="#000" stroke="#000" stroke-width="0.2">8.3</text>
<line x1="228.45" y1="821.9" x2="435.55" y2="821.9" stroke="#000" stroke-width="1.9" />
<line x1="229.4" y1="821.9" x2="229.4" y2="825.5" stroke="#000" stroke-width="1.9" />
<line x1="252.2" y1="821.9" x2="252.2" y2="825.5" stroke="#000" stroke-width="1.9" />
<line x1="275" y1="821.9" x2="275" y2="825.5" stroke="#000" stroke-width="1.9" />
<line x1="297.8" y1="821.9" x2="297.8" y2="825.5" stroke="#000" stroke-width="1.9" />
<line x1="320.6" y1="821.9" x2="320.6" y2="825.5" stroke="#000" stroke-width="1.9" />
<line x1="343.4" y1="821.9" x2="343.4" y2="825.5" stroke="#000" stroke-width="1.9" />
<line x1="366.2" y1="821.9" x2="366.2" y2="825.5" stroke="#000" stroke-width="1.9" />
<line x1="389" y1="821.9" x2="389" y2="825.5" stroke="#000" stroke-width="1.9" />
<line x1="411.8" y1="821.9" x2="411.8" y2="825.5" stroke="#000" stroke-width="1.9" />
<line x1="434.6" y1="821.9" x2="434.6" y2="825.5" stroke="#000" stroke-width="1.9" />
<text x="200.6" y="751.6" font-size="11.9" font-weight="bold" text-anchor="middle" fill="#000" transform="rotate(-90 200.6 751.6)" stroke="#000" stroke-width="0.3">Mitochondrial pH (units)</text>
<line x1="241.2" y1="698.6" x2="241.2" y2="698" stroke="#222" stroke-width="1.3" />
<line x1="239.45" y1="698" x2="242.95" y2="698" stroke="#222" stroke-width="1.3" />
<rect x="235.6" y="698.6" width="10.6" height="123.3" fill="#0a0a0a" stroke="none" stroke-width="1"/>
<line x1="264" y1="757.2" x2="264" y2="746" stroke="#222" stroke-width="1.3" />
<line x1="262.25" y1="746" x2="265.75" y2="746" stroke="#222" stroke-width="1.3" />
<rect x="258.4" y="757.2" width="10.6" height="64.7" fill="#0a0a0a" stroke="none" stroke-width="1"/>
<text x="264" y="727.55" font-size="19" font-weight="bold" text-anchor="middle" fill="#000" >*</text>
<line x1="286.8" y1="761.3" x2="286.8" y2="732.5" stroke="#222" stroke-width="1.3" />
<line x1="285.05" y1="732.5" x2="288.55" y2="732.5" stroke="#222" stroke-width="1.3" />
<rect x="281.2" y="761.3" width="10.6" height="60.6" fill="#0a0a0a" stroke="none" stroke-width="1"/>
<text x="286.8" y="727.55" font-size="19" font-weight="bold" text-anchor="middle" fill="#000" >*</text>
<line x1="309.6" y1="727.9" x2="309.6" y2="724.3" stroke="#222" stroke-width="1.3" />
<line x1="307.85" y1="724.3" x2="311.35" y2="724.3" stroke="#222" stroke-width="1.3" />
<rect x="304" y="727.9" width="10.6" height="94" fill="#0a0a0a" stroke="none" stroke-width="1"/>
<text x="309.6" y="726.25" font-size="19" font-weight="bold" text-anchor="middle" fill="#000" >*</text>
<line x1="332.4" y1="740.9" x2="332.4" y2="728.7" stroke="#222" stroke-width="1.3" />
<line x1="330.65" y1="728.7" x2="334.15" y2="728.7" stroke="#222" stroke-width="1.3" />
<rect x="326.8" y="740.9" width="10.6" height="81" fill="#0a0a0a" stroke="none" stroke-width="1"/>
<text x="332.4" y="728.25" font-size="19" font-weight="bold" text-anchor="middle" fill="#000" >*</text>
<line x1="355.2" y1="742.7" x2="355.2" y2="717.7" stroke="#222" stroke-width="1.3" />
<line x1="353.45" y1="717.7" x2="356.95" y2="717.7" stroke="#222" stroke-width="1.3" />
<rect x="349.6" y="742.7" width="10.6" height="79.2" fill="#0a0a0a" stroke="none" stroke-width="1"/>
<text x="355.2" y="721.15" font-size="19" font-weight="bold" text-anchor="middle" fill="#000" >*</text>
<line x1="378" y1="755.5" x2="378" y2="735.6" stroke="#222" stroke-width="1.3" />
<line x1="376.25" y1="735.6" x2="379.75" y2="735.6" stroke="#222" stroke-width="1.3" />
<rect x="372.4" y="755.5" width="10.6" height="66.4" fill="#0a0a0a" stroke="none" stroke-width="1"/>
<text x="378" y="728.25" font-size="19" font-weight="bold" text-anchor="middle" fill="#000" >*</text>
<line x1="400.8" y1="744" x2="400.8" y2="730.7" stroke="#222" stroke-width="1.3" />
<line x1="399.05" y1="730.7" x2="402.55" y2="730.7" stroke="#222" stroke-width="1.3" />
<rect x="395.2" y="744" width="10.6" height="77.9" fill="#0a0a0a" stroke="none" stroke-width="1"/>
<text x="400.8" y="728.25" font-size="19" font-weight="bold" text-anchor="middle" fill="#000" >*</text>
<line x1="424.6" y1="772.6" x2="424.6" y2="760.6" stroke="#222" stroke-width="1.3" />
<line x1="422.85" y1="760.6" x2="426.35" y2="760.6" stroke="#222" stroke-width="1.3" />
<rect x="419.7" y="773.3" width="9.2" height="48.6" fill="#fff" stroke="#000" stroke-width="1.5"/>
<text x="424.6" y="760.15" font-size="19" font-weight="bold" text-anchor="middle" fill="#000" >*</text>
<text x="248.4" y="833.3" font-size="9.5" font-weight="bold" text-anchor="end" fill="#000" transform="rotate(-45 248.4 833.3)" stroke="#000" stroke-width="0.45">Control</text>
<text x="269.5" y="832.5" font-size="9.5" font-weight="bold" text-anchor="end" fill="#000" transform="rotate(-45 269.5 832.5)" stroke="#000" stroke-width="0.45">As<tspan font-size="70%" dy="2">2</tspan><tspan dy="-2">O</tspan><tspan font-size="70%" dy="2">3</tspan></text>
<text x="293.7" y="833.3" font-size="9.5" font-weight="bold" text-anchor="end" fill="#000" transform="rotate(-45 293.7 833.3)" stroke="#000" stroke-width="0.45">Doxorubicin</text>
<text x="315.1" y="833.3" font-size="9.5" font-weight="bold" text-anchor="end" fill="#000" transform="rotate(-45 315.1 833.3)" stroke="#000" stroke-width="0.45">Cisplatin</text>
<text x="337.8" y="833.3" font-size="9.5" font-weight="bold" text-anchor="end" fill="#000" transform="rotate(-45 337.8 833.3)" stroke="#000" stroke-width="0.45">Menadione</text>
<text x="362.4" y="832.5" font-size="9.5" font-weight="bold" text-anchor="end" fill="#000" transform="rotate(-45 362.4 832.5)" stroke="#000" stroke-width="0.45">Etoposide</text>
<text x="384.7" y="833.3" font-size="9.5" font-weight="bold" text-anchor="end" fill="#000" transform="rotate(-45 384.7 833.3)" stroke="#000" stroke-width="0.45">Fas L</text>
<text x="407.5" y="833.3" font-size="9.5" font-weight="bold" text-anchor="end" fill="#000" transform="rotate(-45 407.5 833.3)" stroke="#000" stroke-width="0.45">TNFα</text>
<text x="431.6" y="833.3" font-size="9.5" font-weight="bold" text-anchor="end" fill="#000" transform="rotate(-45 431.6 833.3)" stroke="#000" stroke-width="0.45">CCCP</text>
</svg>
</body>
</html>
